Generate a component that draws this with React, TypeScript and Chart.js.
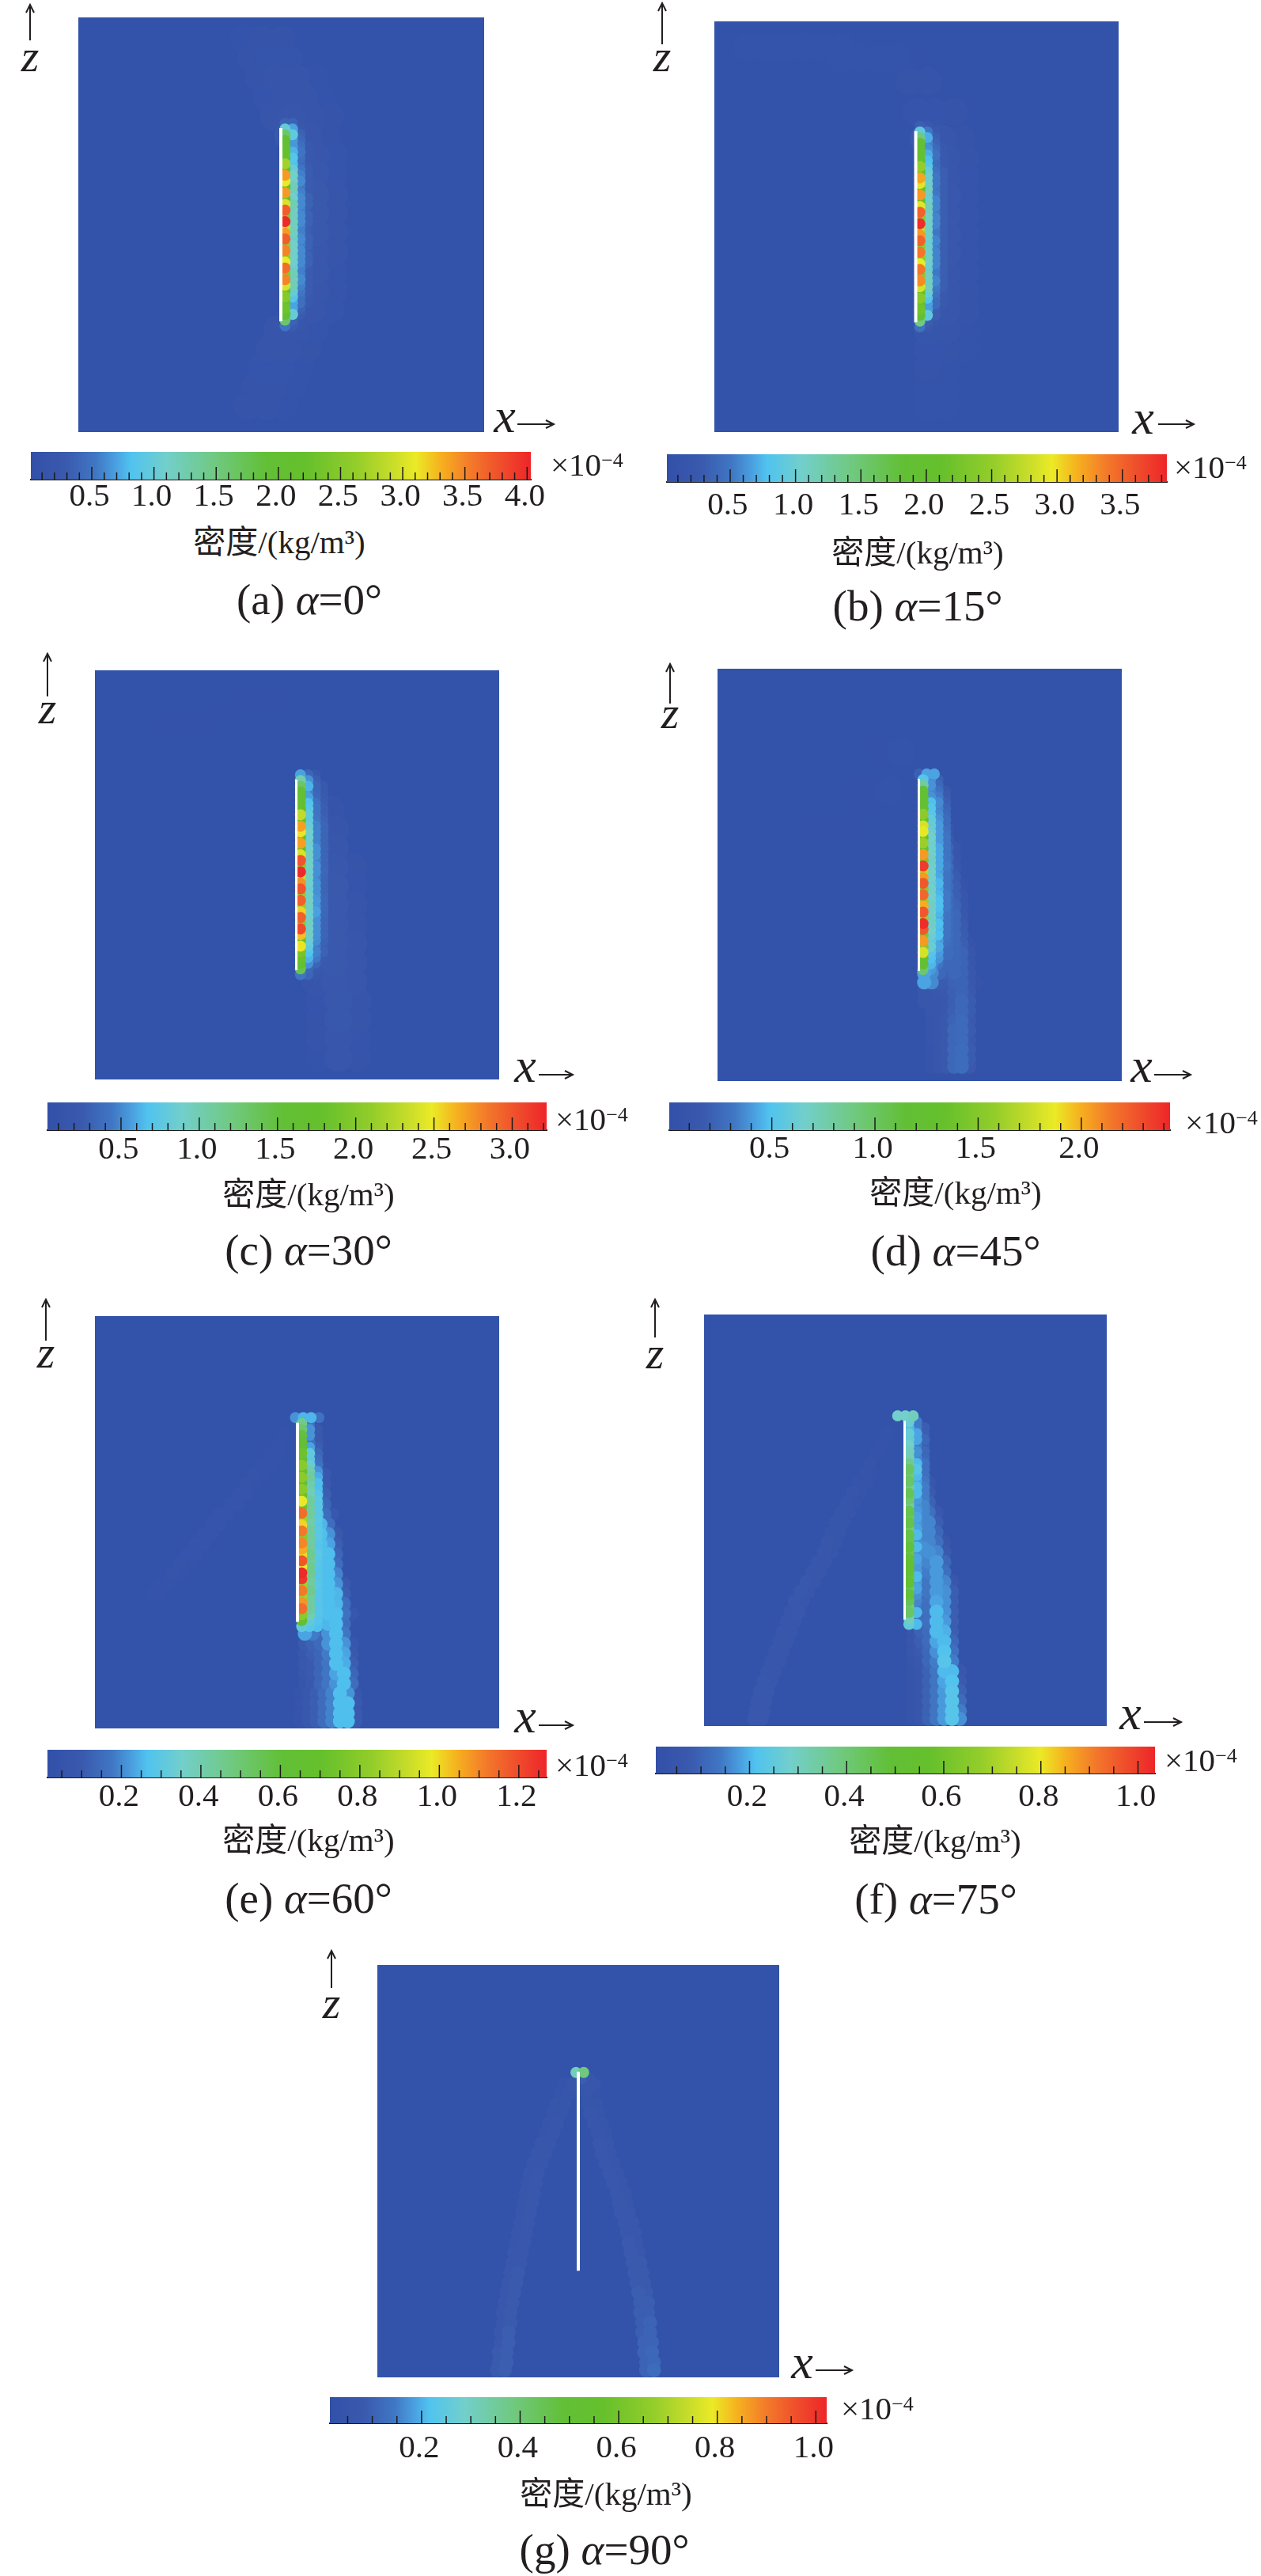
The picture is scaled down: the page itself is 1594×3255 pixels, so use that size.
import { useEffect, useRef } from "react";
import Chart from "chart.js/auto";

// colour bar stops
const colourStops: [number, string][] = [
  [0, "#3250a8"], [0.07, "#3a5aae"], [0.13, "#4077c4"], [0.17, "#4aa0e0"],
  [0.2, "#50c3ef"], [0.27, "#72cfcb"], [0.37, "#70c97f"], [0.47, "#62bf36"],
  [0.55, "#66c02c"], [0.65, "#93cd2a"], [0.72, "#c6dc2a"], [0.77, "#ebea26"],
  [0.82, "#f6b11f"], [0.88, "#f3792a"], [0.94, "#ef4e2c"], [1, "#ee2529"],
];

const ticksA = [0.5, 1.0, 1.5, 2.0, 2.5, 3.0, 3.5, 4.0];
const ticksB = [0.5, 1.0, 1.5, 2.0, 2.5, 3.0, 3.5];
const ticksC = [0.5, 1.0, 1.5, 2.0, 2.5, 3.0];
const ticksD = [0.5, 1.0, 1.5, 2.0];
const ticksE = [0.2, 0.4, 0.6, 0.8, 1.0, 1.2];
const ticksF = [0.2, 0.4, 0.6, 0.8, 1.0];
const ticksG = [0.2, 0.4, 0.6, 0.8, 1.0];

const plateZ = [25, 75];

// cells next to the plate, top to bottom: [first x, density...]
const plateA = [
  [51, 0.35, 0.35, 0.2], [51, 1.0, 0.7, 0.25], [51, 1.6, 0.95, 0.35, 0.2], [51, 2.0, 0.65, 0.4, 0.2],
  [51, 2.0, 0.65, 0.45, 0.25], [51, 2.1, 0.75, 0.5, 0.25], [51, 2.0, 0.85, 0.45, 0.25], [51, 2.7, 0.8, 0.4, 0.25],
  [51, 2.1, 1.0, 0.5, 0.3], [51, 3.4, 1.1, 0.55, 0.3], [51, 3.1, 1.1, 0.6, 0.3], [51, 2.1, 1.2, 0.5, 0.3],
  [51, 3.4, 1.0, 0.55, 0.3], [51, 2.2, 1.1, 0.6, 0.35], [51, 3.0, 1.2, 0.6, 0.35], [51, 3.7, 1.1, 0.55, 0.3],
  [51, 2.5, 1.15, 0.6, 0.35], [51, 4.0, 1.15, 0.6, 0.35], [51, 2.9, 1.15, 0.55, 0.3], [51, 3.4, 1.15, 0.55, 0.3],
  [51, 3.7, 1.0, 0.6, 0.35], [51, 2.6, 1.1, 0.55, 0.35], [51, 3.5, 1.1, 0.6, 0.3], [51, 2.6, 1.1, 0.6, 0.35],
  [51, 3.1, 1.05, 0.6, 0.35], [51, 3.6, 1.0, 0.55, 0.3], [51, 2.5, 1.2, 0.55, 0.3], [51, 3.5, 1.15, 0.6, 0.3],
  [51, 3.0, 1.2, 0.55, 0.3], [51, 2.2, 1.0, 0.5, 0.3], [51, 2.5, 0.85, 0.45, 0.25], [51, 2.1, 0.7, 0.45, 0.25],
  [51, 2.3, 0.7, 0.35, 0.2], [51, 2.0, 1.0, 0.3, 0.2], [51, 1.6, 0.35, 0.2], [51, 0.5, 0.3, 0.2],
];
const plateB = [
  [50.9, 0.3, 0.25, 0.15], [50.9, 0.9, 0.5, 0.25], [50.9, 1.4, 0.7, 0.3, 0.2], [50.9, 1.9, 0.55, 0.35, 0.2],
  [50.9, 1.9, 0.6, 0.4, 0.25], [50.9, 2.0, 0.7, 0.45, 0.25], [50.9, 1.9, 0.75, 0.4, 0.25], [50.9, 2.5, 0.8, 0.4, 0.25],
  [50.9, 2.0, 0.95, 0.45, 0.3], [50.9, 3.2, 1.0, 0.5, 0.3], [50.9, 2.9, 1.0, 0.5, 0.3], [50.9, 2.0, 1.1, 0.45, 0.3],
  [50.9, 3.25, 0.95, 0.5, 0.3], [50.9, 2.1, 1.0, 0.55, 0.3], [50.9, 2.9, 1.1, 0.55, 0.3], [50.9, 3.5, 1.05, 0.5, 0.3],
  [50.9, 2.4, 1.05, 0.55, 0.3], [50.9, 3.8, 1.05, 0.55, 0.3], [50.9, 2.7, 1.05, 0.5, 0.3], [50.9, 3.25, 1.05, 0.5, 0.3],
  [50.9, 3.5, 0.95, 0.55, 0.3], [50.9, 2.45, 1.0, 0.5, 0.3], [50.9, 3.4, 1.0, 0.55, 0.3], [50.9, 2.45, 1.05, 0.55, 0.3],
  [50.9, 2.95, 1.0, 0.55, 0.3], [50.9, 3.4, 0.95, 0.5, 0.3], [50.9, 2.4, 1.1, 0.5, 0.3], [50.9, 3.3, 1.05, 0.55, 0.3],
  [50.9, 2.85, 1.1, 0.5, 0.3], [50.9, 2.05, 0.95, 0.45, 0.25], [50.9, 2.4, 0.8, 0.4, 0.25], [50.9, 2.0, 0.65, 0.4, 0.25],
  [50.9, 2.2, 0.65, 0.3, 0.2], [50.9, 1.9, 0.9, 0.3, 0.2], [50.9, 1.4, 0.3, 0.2], [50.9, 0.45, 0.25, 0.15],
];
const plateC = [
  [50.9, 0.55, 0.3, 0.15], [50.9, 1.0, 0.5, 0.25], [50.9, 1.3, 0.6, 0.3, 0.18], [50.9, 1.6, 0.45, 0.3, 0.2],
  [50.9, 1.6, 0.55, 0.32, 0.22], [50.9, 1.65, 0.65, 0.38, 0.24], [50.9, 1.6, 0.7, 0.4, 0.25], [50.9, 2.3, 0.75, 0.4, 0.25],
  [50.9, 1.7, 0.75, 0.42, 0.28], [50.9, 2.7, 0.8, 0.45, 0.3], [50.9, 2.5, 0.85, 0.45, 0.3], [50.9, 1.65, 0.85, 0.45, 0.3],
  [50.9, 2.7, 0.8, 0.45, 0.3], [50.9, 1.7, 0.85, 0.5, 0.3], [50.9, 2.4, 0.9, 0.5, 0.3], [50.9, 3.0, 0.85, 0.45, 0.3],
  [50.9, 2.0, 0.88, 0.5, 0.3], [50.9, 3.2, 0.88, 0.5, 0.32], [50.9, 2.3, 0.88, 0.45, 0.3], [50.9, 2.75, 0.85, 0.5, 0.3],
  [50.9, 3.0, 0.8, 0.5, 0.3], [50.9, 2.1, 0.88, 0.5, 0.3], [50.9, 2.95, 0.88, 0.52, 0.32], [50.9, 2.1, 0.9, 0.5, 0.32],
  [50.9, 2.55, 0.85, 0.55, 0.32], [50.9, 2.95, 0.85, 0.5, 0.3], [50.9, 2.0, 0.9, 0.5, 0.3], [50.9, 3.05, 0.88, 0.5, 0.3],
  [50.9, 2.6, 0.9, 0.5, 0.3], [50.9, 1.75, 0.8, 0.48, 0.28], [50.9, 2.5, 0.75, 0.42, 0.25], [50.9, 1.9, 0.65, 0.45, 0.28],
  [50.9, 1.8, 0.6, 0.42, 0.22], [50.9, 1.6, 0.5, 0.3, 0.2], [50.9, 1.4, 0.32, 0.2], [50.9, 0.4, 0.3, 0.18],
];
const plateD = [
  [49.9, 0.2, 0.42, 0.42], [50.9, 0.52, 0.36, 0.2], [50.9, 0.8, 0.38, 0.24], [50.9, 1.15, 0.34, 0.28, 0.15],
  [50.9, 1.2, 0.38, 0.32, 0.18], [50.9, 1.25, 0.48, 0.36, 0.2], [50.9, 1.2, 0.52, 0.34, 0.22], [50.9, 1.55, 0.52, 0.36, 0.24],
  [50.9, 1.25, 0.58, 0.38, 0.26], [50.9, 1.8, 0.6, 0.4, 0.26], [50.9, 1.85, 0.62, 0.4, 0.28], [50.9, 1.25, 0.66, 0.4, 0.3],
  [50.9, 1.6, 0.62, 0.4, 0.3], [50.9, 1.25, 0.65, 0.43, 0.3], [50.9, 2.05, 0.66, 0.43, 0.3], [50.9, 1.45, 0.68, 0.43, 0.3],
  [50.9, 2.35, 0.66, 0.43, 0.32], [50.9, 1.7, 0.66, 0.4, 0.3], [50.9, 2.05, 0.65, 0.43, 0.3], [50.9, 2.25, 0.6, 0.46, 0.3],
  [50.9, 1.5, 0.66, 0.43, 0.3], [50.9, 2.2, 0.66, 0.46, 0.32], [50.9, 1.6, 0.66, 0.48, 0.32], [50.9, 2.0, 0.68, 0.48, 0.32],
  [50.9, 2.25, 0.65, 0.46, 0.3], [50.9, 1.6, 0.68, 0.43, 0.3], [50.9, 2.4, 0.68, 0.48, 0.3], [50.9, 2.25, 0.65, 0.46, 0.3],
  [50.9, 1.45, 0.62, 0.48, 0.3], [50.9, 2.05, 0.55, 0.4, 0.28], [50.9, 1.5, 0.62, 0.43, 0.26], [50.9, 1.8, 0.52, 0.4, 0.25],
  [50.9, 1.25, 0.48, 0.38, 0.22], [50.9, 1.2, 0.46, 0.3], [50.9, 0.95, 0.4, 0.22], [50.9, 0.38, 0.36, 0.2],
];
const plateE = [
  [49.6, 0.2, 0.24, 0.24, 0.15], [51.2, 0.45, 0.15], [51.2, 0.5, 0.2, 0.08], [51.2, 0.58, 0.2, 0.08],
  [51.2, 0.62, 0.15, 0.08], [51.2, 0.63, 0.22, 0.1], [51.2, 0.72, 0.3, 0.12], [51.2, 0.62, 0.28, 0.14],
  [51.2, 0.8, 0.32, 0.15], [51.2, 0.62, 0.4, 0.2], [51.2, 0.8, 0.42, 0.23], [51.2, 0.62, 0.4, 0.25],
  [51.2, 0.8, 0.38, 0.25], [51.2, 0.7, 0.38, 0.27], [51.2, 0.98, 0.42, 0.28], [51.2, 0.72, 0.42, 0.28],
  [51.2, 1.14, 0.42, 0.28], [51.2, 0.85, 0.4, 0.28], [51.2, 1.0, 0.4, 0.27], [51.2, 1.12, 0.42, 0.28],
  [51.2, 0.8, 0.42, 0.28], [51.2, 1.1, 0.42, 0.27], [51.2, 1.05, 0.42, 0.27], [51.2, 1.0, 0.45, 0.28],
  [51.2, 1.18, 0.42, 0.27], [51.2, 0.98, 0.45, 0.27], [51.2, 1.26, 0.45, 0.27], [51.2, 1.24, 0.42, 0.27],
  [51.2, 0.85, 0.42, 0.27], [51.2, 1.12, 0.45, 0.27], [51.2, 0.85, 0.42, 0.27], [51.2, 1.08, 0.42, 0.27],
  [51.2, 1.14, 0.42, 0.27], [51.2, 0.8, 0.38, 0.27], [51.2, 0.65, 0.3, 0.26], [51.2, 0.3, 0.27, 0.25],
];
const plateF = [
  [48, 0.28, 0.28, 0.3], [50.9, 0.26, 0.14], [50.9, 0.2, 0.14, 0.08], [50.9, 0.26, 0.18, 0.08],
  [50.9, 0.25, 0.18, 0.1], [50.9, 0.28, 0.14, 0.08], [50.9, 0.3, 0.16, 0.1], [50.9, 0.3, 0.15, 0.1],
  [50.9, 0.36, 0.2, 0.12], [50.9, 0.42, 0.22, 0.12], [50.9, 0.38, 0.2, 0.12], [50.9, 0.42, 0.18, 0.13],
  [50.9, 0.34, 0.2, 0.14], [50.9, 0.44, 0.2, 0.14], [50.9, 0.4, 0.17, 0.14], [50.9, 0.34, 0.16, 0.15],
  [50.9, 0.45, 0.17, 0.15], [50.9, 0.42, 0.18, 0.15], [50.9, 0.46, 0.17, 0.15], [50.9, 0.38, 0.18, 0.15],
  [50.9, 0.46, 0.2, 0.15], [50.9, 0.44, 0.16, 0.15], [50.9, 0.48, 0.2, 0.16], [50.9, 0.44, 0.16, 0.15],
  [50.9, 0.48, 0.18, 0.14], [50.9, 0.5, 0.17, 0.14], [50.9, 0.52, 0.17, 0.13], [50.9, 0.46, 0.2, 0.13],
  [50.9, 0.5, 0.17, 0.12], [50.9, 0.42, 0.18, 0.12], [50.9, 0.48, 0.16, 0.11], [50.9, 0.44, 0.15, 0.1],
  [50.9, 0.38, 0.14, 0.1], [50.9, 0.42, 0.2, 0.09], [50.9, 0.3, 0.12], [50.9, 0.25, 0.2, 0.1],
];
const plateG = [
  [], [49.4, 0.3, 0.38], [50.8, 0.08, 0.05], [48.4, 0.05, 0.05, 0.05, 0.05], [48.6, 0.04, 0.05, 0.05],
];

// wake and plume cells below the first rows: [z, first x, density...]
const wakeD = [
  [72, 52.2, 0.24], [69.5, 52.2, 0.3, 0.12], [67, 52.2, 0.36, 0.18], [64.5, 52.2, 0.34, 0.24, 0.1], [62, 53.2, 0.34, 0.24, 0.12],
  [59.5, 53.2, 0.36, 0.26, 0.17], [57, 53.2, 0.4, 0.3, 0.22, 0.1], [54.5, 53.2, 0.4, 0.31, 0.24, 0.12], [52, 53.2, 0.42, 0.3, 0.26, 0.14],
  [49.5, 53.2, 0.4, 0.3, 0.26, 0.18], [47, 53.2, 0.42, 0.31, 0.26, 0.19, 0.07], [44.5, 53.2, 0.42, 0.3, 0.26, 0.2, 0.1],
  [42, 53.2, 0.4, 0.3, 0.26, 0.22, 0.12], [39.5, 53.2, 0.42, 0.31, 0.26, 0.24, 0.14], [37, 53.2, 0.42, 0.3, 0.26, 0.24, 0.17],
  [34.5, 53.2, 0.4, 0.3, 0.26, 0.24, 0.18], [32, 53.2, 0.42, 0.29, 0.26, 0.24, 0.19, 0.07], [29.5, 53.2, 0.38, 0.26, 0.26, 0.24, 0.22, 0.1],
  [27, 53.2, 0.36, 0.24, 0.24, 0.24, 0.22, 0.12], [24.5, 51.2, 0.42, 0.36, 0.24, 0.2, 0.24, 0.22, 0.14], [22, 51.2, 0.42, 0.36, 0.18, 0.17, 0.21, 0.22, 0.14, 0.06],
  [19.5, 51.2, 0.12, 0.12, 0.14, 0.16, 0.2, 0.22, 0.16], [17, 51.2, 0.1, 0.12, 0.12, 0.14, 0.19, 0.24, 0.18], [14.5, 53.2, 0.1, 0.12, 0.14, 0.2, 0.24, 0.18],
  [12, 53.2, 0.08, 0.12, 0.15, 0.22, 0.25, 0.16], [9.5, 53.2, 0.08, 0.12, 0.15, 0.24, 0.25, 0.18], [7, 53.2, 0.08, 0.12, 0.15, 0.24, 0.25, 0.16],
  [4.5, 53.2, 0.07, 0.1, 0.15, 0.24, 0.26, 0.18], [2, 53.2, 0.07, 0.1, 0.15, 0.24, 0.26, 0.18], [0, 53.2, 0.07, 0.1, 0.15, 0.24, 0.26, 0.16],
];
const wakeE = [
  [72, 53, 0.1], [69.5, 53, 0.14, 0.07], [67, 53, 0.15, 0.08], [64.5, 53, 0.2, 0.12], [62, 53, 0.22, 0.14, 0.07],
  [59.5, 53, 0.25, 0.15, 0.08], [57, 53, 0.25, 0.18, 0.1], [54.5, 53, 0.25, 0.2, 0.12], [52, 53, 0.27, 0.24, 0.14, 0.07],
  [49.5, 54, 0.27, 0.24, 0.14], [47, 54, 0.27, 0.25, 0.2, 0.08], [44.5, 54, 0.26, 0.25, 0.22, 0.1],
  [42, 54, 0.28, 0.25, 0.25, 0.12], [39.5, 54, 0.28, 0.25, 0.25, 0.14], [37, 54, 0.27, 0.25, 0.25, 0.18],
  [34.5, 54, 0.28, 0.25, 0.25, 0.2, 0.08], [32, 54, 0.26, 0.25, 0.25, 0.24, 0.1], [29.5, 54, 0.25, 0.25, 0.25, 0.24, 0.14],
  [27, 54, 0.22, 0.24, 0.25, 0.25, 0.15, 0.06], [24.5, 52, 0.2, 0.18, 0.16, 0.24, 0.25, 0.14], [22, 52, 0.22, 0.17, 0.13, 0.2, 0.25, 0.16],
  [19.5, 52, 0.09, 0.11, 0.13, 0.2, 0.25, 0.2, 0.06], [17, 52, 0.07, 0.1, 0.12, 0.17, 0.25, 0.22, 0.08], [14.5, 52, 0.07, 0.09, 0.12, 0.16, 0.25, 0.23, 0.1],
  [12, 52, 0.06, 0.09, 0.12, 0.16, 0.22, 0.25, 0.12], [9.5, 52, 0.05, 0.08, 0.12, 0.16, 0.2, 0.25, 0.14], [7, 51, 0.04, 0.07, 0.1, 0.14, 0.18, 0.25, 0.2, 0.06],
  [4.5, 51, 0.04, 0.07, 0.1, 0.14, 0.18, 0.25, 0.25, 0.08], [2, 51, 0.04, 0.07, 0.1, 0.14, 0.18, 0.25, 0.25, 0.08], [0, 51, 0.04, 0.07, 0.1, 0.14, 0.18, 0.25, 0.25, 0.09],
  // faint arc on the left
  [72, 47, 0.03], [69.5, 45, 0.03], [67, 43, 0.03, 0.03], [64.5, 41, 0.03, 0.03], [62, 39, 0.035, 0.03], [59.5, 37, 0.035, 0.03],
  [57, 35, 0.04, 0.035], [54.5, 33, 0.04, 0.035], [52, 30, 0.04, 0.04], [49.5, 28, 0.04, 0.04], [47, 26, 0.04, 0.04], [44.5, 24, 0.04, 0.035],
  [42, 22, 0.04, 0.035], [39.5, 20, 0.035, 0.03], [37, 18, 0.035, 0.03], [34.5, 15, 0.03, 0.03], [32, 13, 0.03, 0.03],
];
const wakeF = [
  [72, 52, 0.1], [69.5, 52, 0.1], [67, 52, 0.12, 0.06], [64.5, 52, 0.13, 0.07], [62, 52, 0.13, 0.08], [59.5, 52, 0.14, 0.1, 0.05],
  [57, 52, 0.14, 0.12, 0.07], [54.5, 52, 0.13, 0.14, 0.09], [52, 52, 0.12, 0.15, 0.12, 0.06], [49.5, 52, 0.12, 0.14, 0.15, 0.08],
  [47, 52, 0.12, 0.14, 0.15, 0.1], [44.5, 52, 0.12, 0.14, 0.15, 0.12, 0.05], [42, 52, 0.1, 0.13, 0.16, 0.15, 0.07], [39.5, 52, 0.1, 0.13, 0.15, 0.17, 0.1],
  [37, 52, 0.09, 0.12, 0.14, 0.17, 0.12], [34.5, 52, 0.08, 0.12, 0.13, 0.17, 0.15, 0.06], [32, 52, 0.08, 0.11, 0.13, 0.17, 0.16, 0.08],
  [29.5, 52, 0.07, 0.1, 0.12, 0.18, 0.16, 0.08], [27, 52, 0.07, 0.1, 0.12, 0.2, 0.16, 0.08], [24.5, 52, 0.06, 0.1, 0.12, 0.2, 0.17, 0.08],
  [22, 52, 0.05, 0.09, 0.11, 0.2, 0.19, 0.08], [19.5, 52, 0.05, 0.08, 0.11, 0.18, 0.2, 0.1], [17, 52, 0.05, 0.07, 0.1, 0.16, 0.21, 0.12],
  [14.5, 52, 0.04, 0.06, 0.1, 0.14, 0.22, 0.14], [12, 52, 0.03, 0.05, 0.09, 0.13, 0.2, 0.2, 0.06], [9.5, 52, 0.03, 0.05, 0.09, 0.13, 0.18, 0.21, 0.07],
  [7, 52, 0.03, 0.05, 0.09, 0.13, 0.17, 0.22, 0.09], [4.5, 52, 0.03, 0.05, 0.09, 0.13, 0.17, 0.22, 0.11], [2, 52, 0.03, 0.05, 0.09, 0.13, 0.17, 0.22, 0.14],
  [0, 52, 0.03, 0.05, 0.09, 0.13, 0.17, 0.22, 0.16],
  // arc on the left
  [72, 45.5, 0.02], [69.5, 44, 0.025], [67, 42.5, 0.025], [64.5, 41, 0.03], [62, 39.5, 0.03, 0.025], [59.5, 38, 0.03, 0.03], [57, 36.5, 0.035, 0.03],
  [54.5, 35, 0.035, 0.03], [52, 33.5, 0.04, 0.035], [49.5, 32, 0.04, 0.035], [47, 31, 0.04, 0.04], [44.5, 30, 0.045, 0.04], [42, 29, 0.045, 0.04],
  [39.5, 27.5, 0.05, 0.045], [37, 26, 0.05, 0.045], [34.5, 24.5, 0.055, 0.05], [32, 23, 0.055, 0.05], [29.5, 21.5, 0.055, 0.05], [27, 20.5, 0.05, 0.055],
  [24.5, 19.5, 0.05, 0.05], [22, 18.5, 0.05, 0.05], [19.5, 17.5, 0.05, 0.05], [17, 16.5, 0.05, 0.05], [14.5, 15.5, 0.05, 0.05], [12, 14.5, 0.05, 0.05],
  [9.5, 13.5, 0.055, 0.05], [7, 12.5, 0.055, 0.055], [4.5, 12, 0.06, 0.055], [2, 11.5, 0.06, 0.06], [0, 11, 0.06, 0.06],
];
const wakeG = [
  // left branch
  [72, 46.5, 0.03, 0.04], [69.5, 45.5, 0.03, 0.04], [67, 44.5, 0.04, 0.04], [64.5, 43.5, 0.04, 0.04], [62, 42.5, 0.04, 0.05], [59.5, 41.5, 0.04, 0.05],
  [57, 40.5, 0.05, 0.05], [54.5, 39.5, 0.05, 0.05], [52, 38.5, 0.05, 0.05], [49.5, 37.5, 0.05, 0.06], [47, 37, 0.05, 0.06], [44.5, 36.5, 0.05, 0.06],
  [42, 36, 0.05, 0.06], [39.5, 35.5, 0.05, 0.06], [37, 35, 0.05, 0.06], [34.5, 34.5, 0.05, 0.06], [32, 34, 0.05, 0.06], [29.5, 33.5, 0.06, 0.06],
  [27, 33, 0.06, 0.06], [24.5, 32.5, 0.06, 0.07], [22, 32, 0.06, 0.07], [19.5, 31.5, 0.06, 0.07], [17, 31, 0.06, 0.07], [14.5, 30.5, 0.06, 0.07],
  [12, 30.5, 0.06, 0.07], [9.5, 30, 0.06, 0.08], [7, 30, 0.06, 0.08], [4.5, 29.5, 0.07, 0.08], [2, 29.5, 0.07, 0.08], [0, 29, 0.07, 0.08],
  // right branch
  [72, 51.5, 0.04, 0.03], [69.5, 52, 0.04, 0.03], [67, 52.5, 0.04, 0.04], [64.5, 53, 0.05, 0.04], [62, 54, 0.05, 0.04], [59.5, 55, 0.05, 0.04],
  [57, 55.5, 0.06, 0.05], [54.5, 56, 0.06, 0.05], [52, 57, 0.06, 0.05], [49.5, 58, 0.06, 0.05], [47, 59, 0.06, 0.05], [44.5, 60, 0.06, 0.05],
  [42, 60.5, 0.06, 0.05], [39.5, 61, 0.06, 0.06], [37, 62, 0.06, 0.06], [34.5, 62.5, 0.06, 0.06], [32, 63, 0.07, 0.06], [29.5, 63.5, 0.07, 0.06],
  [27, 64, 0.07, 0.07], [24.5, 64.5, 0.07, 0.07], [22, 65, 0.07, 0.07], [19.5, 65.5, 0.08, 0.07], [17, 66, 0.08, 0.08], [14.5, 66, 0.08, 0.08],
  [12, 66.5, 0.08, 0.09], [9.5, 66.5, 0.08, 0.09], [7, 67, 0.09, 0.09], [4.5, 67, 0.09, 0.1], [2, 67.5, 0.09, 0.1], [0, 67.5, 0.09, 0.11],
];

// broad faint halo: [z, first x, density...]
const haloA = [
  [98, 40, 0.08, 0.1, 0.1], [93, 42, 0.1, 0.12, 0.12], [88, 44, 0.1, 0.13, 0.13, 0.08], [83, 46, 0.12, 0.14, 0.14, 0.08], [78, 48, 0.14, 0.18, 0.16, 0.1],
  [73, 52, 0.24, 0.18, 0.1], [68, 54, 0.26, 0.2, 0.12], [63, 54, 0.28, 0.22, 0.12], [58, 54, 0.3, 0.24, 0.13], [53, 54, 0.3, 0.24, 0.14],
  [48, 54, 0.32, 0.24, 0.14], [43, 54, 0.3, 0.23, 0.14], [38, 54, 0.28, 0.22, 0.12], [33, 54, 0.26, 0.2, 0.1], [28, 53, 0.22, 0.18, 0.12],
  [23, 49, 0.15, 0.15, 0.12], [18, 47, 0.13, 0.13, 0.1], [13, 45, 0.12, 0.12, 0.08], [8, 43, 0.1, 0.1, 0.08], [3, 41, 0.1, 0.1, 0.08],
];
const haloB = [
  [97, 5, 0.08, 0.08, 0.08, 0.08, 0.08, 0.08], [94, 30, 0.08, 0.08, 0.08, 0.08, 0.06], [88, 48, 0.1, 0.1], [80, 50, 0.12, 0.12, 0.1],
  [73, 52, 0.22, 0.18, 0.1], [68, 53, 0.24, 0.18, 0.1], [63, 53, 0.26, 0.2, 0.12], [58, 53, 0.28, 0.22, 0.12], [53, 53, 0.28, 0.22, 0.12],
  [48, 53, 0.28, 0.22, 0.12], [43, 53, 0.28, 0.22, 0.12], [38, 53, 0.26, 0.2, 0.12], [33, 53, 0.24, 0.2, 0.1], [28, 53, 0.2, 0.16, 0.1],
  [23, 53, 0.15, 0.13, 0.08], [18, 53, 0.12, 0.1, 0.08], [13, 53, 0.1, 0.08], [8, 53, 0.08, 0.07], [3, 53, 0.07, 0.07],
];
const haloC = [
  [96, 35, 0.05, 0.05, 0.05], [90, 15, 0.05, 0.05, 0.05], [72, 54, 0.14], [67, 54, 0.18, 0.09], [62, 55, 0.2, 0.13], [57, 55, 0.22, 0.16],
  [52, 55, 0.22, 0.18, 0.09], [47, 55, 0.2, 0.2, 0.1], [42, 55, 0.2, 0.2, 0.12], [37, 55, 0.18, 0.2, 0.13], [32, 55, 0.16, 0.2, 0.14],
  [27, 55, 0.14, 0.2, 0.14], [22, 55, 0.12, 0.19, 0.14], [17, 56, 0.1, 0.18, 0.13], [12, 56, 0.08, 0.18, 0.12], [7, 56, 0.08, 0.16, 0.1], [2, 56, 0.06, 0.14, 0.09],
];
const haloD = [
  [82, 40, 0.04, 0.05], [72, 32, 0.04, 0.04, 0.05], [62, 22, 0.04, 0.04, 0.04], [52, 15, 0.03, 0.03], [42, 8, 0.03, 0.03],
];

const HALO_STEP = 5;

function colourAt(f: number): string {
  const t = Math.max(0, Math.min(1, f));
  for (let i = 1; i < colourStops.length; i++) {
    if (t <= colourStops[i][0]) {
      const [p0, c0] = colourStops[i - 1];
      const [p1, c1] = colourStops[i];
      const k = (t - p0) / (p1 - p0);
      const ch = (c: string, s: number) => parseInt(c.slice(s, s + 2), 16);
      const mix = (s: number) => Math.round(ch(c0, s) + (ch(c1, s) - ch(c0, s)) * k);
      return `rgb(${mix(1)},${mix(3)},${mix(5)})`;
    }
  }
  return colourStops[colourStops.length - 1][1];
}

const byDensity = (a: any, b: any) => a.v - b.v;

function plateCells(rows: number[][]) {
  return rows.flatMap((r, i) =>
    r.slice(1).map((v, j) => ({ x: r[0] + j * 2, y: 76.3 - i * 1.5, v, r: 7 }))
  );
}

function gridCells(rows: number[][], dx: number, r: number) {
  return rows.flatMap((row) =>
    row.slice(2).map((v, j) => ({ x: row[1] + j * dx, y: row[0], v, r }))
  );
}

const panels = [
  {
    key: "a", plate: plateA, wake: [] as number[][], halo: haloA, ticks: ticksA, min: 0.01, max: 4.03, minor: 0.1,
    plateX: 49.9, plateW: 4, caption: "(a) ", angle: "=0°",
    field: [99, 22, 513, 524], bar: [39, 571, 632, 35], labelY: 628, titleY: 685, titleX: 353, capX: 391, capY: 757,
    exp: [696, 587], xl: [638, 533, 654, 700, 536], zl: [38, 6, 51, 75],
  },
  {
    key: "b", plate: plateB, wake: [] as number[][], halo: haloB, ticks: ticksB, min: 0.016, max: 3.84, minor: 0.1,
    plateX: 49.8, plateW: 4, caption: "(b) ", angle: "=15°",
    field: [903, 27, 511, 519], bar: [843, 574, 632, 35], labelY: 639, titleY: 698, titleX: 1160, capX: 1160, capY: 765,
    exp: [1484, 590], xl: [1445, 535, 1464, 1509, 536], zl: [837, 4, 56, 75],
  },
  {
    key: "c", plate: plateC, wake: [] as number[][], halo: haloC, ticks: ticksC, min: 0.03, max: 3.22, minor: 0.1,
    plateX: 49.8, plateW: 3, caption: "(c) ", angle: "=30°",
    field: [120, 847, 511, 517], bar: [60, 1393, 631, 35], labelY: 1453, titleY: 1509, titleX: 390, capX: 390, capY: 1579,
    exp: [702, 1414], xl: [664, 1354, 681, 724, 1358], zl: [60, 826, 880, 899],
  },
  {
    key: "d", plate: plateD, wake: wakeD, halo: haloD, ticks: ticksD, min: 0.003, max: 2.43, minor: 0.1,
    plateX: 49.8, plateW: 3, caption: "(d) ", angle: "=45°",
    field: [907, 845, 511, 521], bar: [846, 1393, 633, 35], labelY: 1452, titleY: 1507, titleX: 1208, capX: 1208, capY: 1580,
    exp: [1498, 1418], xl: [1443, 1354, 1459, 1505, 1358], zl: [847, 839, 889, 905],
  },
  {
    key: "e", plate: plateE, wake: wakeE, halo: [] as number[][], ticks: ticksE, min: 0.014, max: 1.27, minor: 0.05,
    plateX: 50.1, plateW: 4, caption: "(e) ", angle: "=60°",
    field: [120, 1663, 511, 521], bar: [60, 2211, 631, 35], labelY: 2271, titleY: 2325, titleX: 390, capX: 390, capY: 2398,
    exp: [702, 2230], xl: [664, 2176, 681, 724, 2180], zl: [58, 1642, 1694, 1713],
  },
  {
    key: "f", plate: plateF, wake: wakeF, halo: [] as number[][], ticks: ticksF, min: 0.007, max: 1.035, minor: 0.05,
    plateX: 49.8, plateW: 3, caption: "(f) ", angle: "=75°",
    field: [890, 1661, 509, 520], bar: [829, 2207, 631, 34], labelY: 2271, titleY: 2326, titleX: 1182, capX: 1183, capY: 2399,
    exp: [1472, 2224], xl: [1429, 2172, 1446, 1493, 2176], zl: [828, 1642, 1690, 1714],
  },
  {
    key: "g", plate: plateG, wake: wakeG, halo: [] as number[][], ticks: ticksG, min: 0.014, max: 1.022, minor: 0.05,
    plateX: 50, plateW: 4, caption: "(g) ", angle: "=90°",
    field: [477, 2483, 508, 521], bar: [417, 3029, 628, 33], labelY: 3094, titleY: 3151, titleX: 766, capX: 764, capY: 3221,
    exp: [1063, 3043], xl: [1014, 2992, 1031, 1077, 2995], zl: [419, 2465, 2512, 2535],
  },
];

type Panel = (typeof panels)[number];

function FieldChart({ p }: { p: Panel }) {
  const ref = useRef<HTMLCanvasElement | null>(null);
  useEffect(() => {
    if (!ref.current) return;
    // low values first, so that the denser cells stay on top
    const cells = [
      ...gridCells(p.halo, HALO_STEP, 18),
      ...gridCells(p.wake, 2, 9),
      ...plateCells(p.plate),
    ].sort(byDensity);
    const chart = new Chart(ref.current, {
      type: "scatter",
      data: {
        datasets: [
          {
            data: plateZ.map((z) => ({ x: p.plateX, y: z })),
            showLine: true,
            borderColor: "#ffffff",
            borderWidth: p.plateW,
            pointRadius: 0,
            borderCapStyle: "butt",
          },
          {
            data: cells,
            pointRadius: (ctx: any) => (ctx.raw ? ctx.raw.r : 0),
            pointBorderWidth: 0,
            pointBackgroundColor: (ctx: any) => colourAt(ctx.raw ? ctx.raw.v / p.max : 0),
            showLine: false,
            clip: false,
          },
        ] as any,
      },
      options: {
        responsive: false,
        animation: false,
        events: [],
        layout: { padding: 0 },
        plugins: { legend: { display: false }, tooltip: { enabled: false } },
        scales: {
          x: { type: "linear", min: 0, max: 100, display: false },
          y: { type: "linear", min: 0, max: 100, display: false },
        },
      },
    });
    return () => chart.destroy();
  }, [p]);
  const [left, top, w, h] = p.field;
  return (
    <canvas
      ref={ref}
      width={w}
      height={h}
      style={{ position: "absolute", left, top, width: w, height: h, background: "#3353aa", filter: "blur(0.6px)" }}
    />
  );
}

function ColourBar({ p }: { p: Panel }) {
  const ref = useRef<HTMLCanvasElement | null>(null);
  const [left, top, w, h] = p.bar;
  const side = 60;
  const gap = p.labelY - (top + h);
  const below = gap + 30;
  useEffect(() => {
    if (!ref.current) return;
    const tickMarks = {
      id: "tickMarks",
      afterDatasetsDraw(chart: any) {
        const { ctx, chartArea, scales } = chart;
        ctx.save();
        ctx.strokeStyle = "#1a1a1a";
        ctx.lineWidth = 1.5;
        for (let k = 1; k * p.minor < p.max; k++) {
          const v = k * p.minor;
          const major = p.ticks.some((t) => Math.abs(t - v) < 1e-6);
          const x = scales.x.getPixelForValue(v);
          ctx.beginPath();
          ctx.moveTo(x, chartArea.bottom);
          ctx.lineTo(x, chartArea.bottom - (major ? 16 : 9));
          ctx.stroke();
        }
        ctx.restore();
      },
    };
    const chart = new Chart(ref.current, {
      type: "bar",
      data: {
        labels: ["density"],
        datasets: [
          {
            data: [[p.min, p.max]],
            barPercentage: 1,
            categoryPercentage: 1,
            backgroundColor: (ctx: any) => {
              const area = ctx.chart.chartArea;
              if (!area) return colourStops[0][1];
              const g = ctx.chart.ctx.createLinearGradient(area.left, 0, area.right, 0);
              colourStops.forEach(([s, c]) => g.addColorStop(s, c));
              return g;
            },
          },
        ] as any,
      },
      options: {
        indexAxis: "y",
        responsive: false,
        animation: false,
        events: [],
        layout: { padding: { left: side, right: side } },
        plugins: { legend: { display: false }, tooltip: { enabled: false } },
        scales: {
          y: { display: false },
          x: {
            type: "linear",
            min: p.min,
            max: p.max,
            afterBuildTicks: (scale: any) => {
              scale.ticks = p.ticks.map((value) => ({ value }));
            },
            afterFit: (scale: any) => {
              scale.height = below;
            },
            grid: { display: false },
            border: { display: true, color: "#1a1a1a", width: 2 },
            ticks: {
              autoSkip: false,
              maxRotation: 0,
              padding: gap - 32,
              labelOffset: -3,
              color: "#231f20",
              font: { family: "'Liberation Serif'", size: 41 },
              callback: (v: any) => Number(v).toFixed(1),
            },
          },
        },
      },
      plugins: [tickMarks],
    } as any);
    return () => chart.destroy();
  }, [p, below, gap]);
  const canvasW = w + side * 2;
  const canvasH = h + below;
  return (
    <canvas
      ref={ref}
      width={canvasW}
      height={canvasH}
      style={{ position: "absolute", left: left - side, top, width: canvasW, height: canvasH }}
    />
  );
}

const serif = "'Liberation Serif', 'Noto Sans CJK SC', serif";

function centred(x: number, y: number, size: number, extra = {}) {
  return {
    position: "absolute" as const,
    left: x,
    top: y,
    transform: "translate(-50%, -50%)",
    whiteSpace: "nowrap" as const,
    fontFamily: serif,
    fontSize: size,
    lineHeight: 1,
    color: "#231f20",
    ...extra,
  };
}

function Labels({ p }: { p: Panel }) {
  const [xx, xy, ax0, ax1, ay] = p.xl;
  const [zx, z0, z1, zy] = p.zl;
  return (
    <>
      <span style={centred(p.titleX, p.titleY, 41)}>密度/(kg/m³)</span>
      <span style={centred(p.capX, p.capY, 55)}>
        {p.caption}
        <i>α</i>
        {p.angle}
      </span>
      <span style={{ ...centred(p.exp[0], p.exp[1], 41), transform: "translate(0, -50%)" }}>
        ×10<sup style={{ fontSize: 26, verticalAlign: "11px", lineHeight: 0 }}>−4</sup>
      </span>
      <span style={centred(xx, xy - 8, 62, { fontStyle: "italic" })}>x</span>
      <span style={centred(zx, zy - 4, 58, { fontStyle: "italic" })}>z</span>
      <svg
        width={1594}
        height={3255}
        style={{ position: "absolute", left: 0, top: 0, pointerEvents: "none" }}
      >
        <path d={`M${ax0} ${ay}H${ax1}M${ax1 - 10} ${ay - 5}L${ax1} ${ay}L${ax1 - 10} ${ay + 5}`} fill="none" stroke="#231f20" strokeWidth={2} />
        <path d={`M${zx} ${z1}V${z0}M${zx - 5} ${z0 + 10}L${zx} ${z0}L${zx + 5} ${z0 + 10}`} fill="none" stroke="#231f20" strokeWidth={2} />
      </svg>
    </>
  );
}

export default function App() {
  return (
    <div style={{ position: "absolute", left: 0, top: 0, width: 1594, height: 3255, background: "#ffffff", overflow: "hidden" }}>
      {panels.map((p) => (
        <div key={p.key}>
          <FieldChart p={p} />
          <ColourBar p={p} />
          <Labels p={p} />
        </div>
      ))}
    </div>
  );
}
